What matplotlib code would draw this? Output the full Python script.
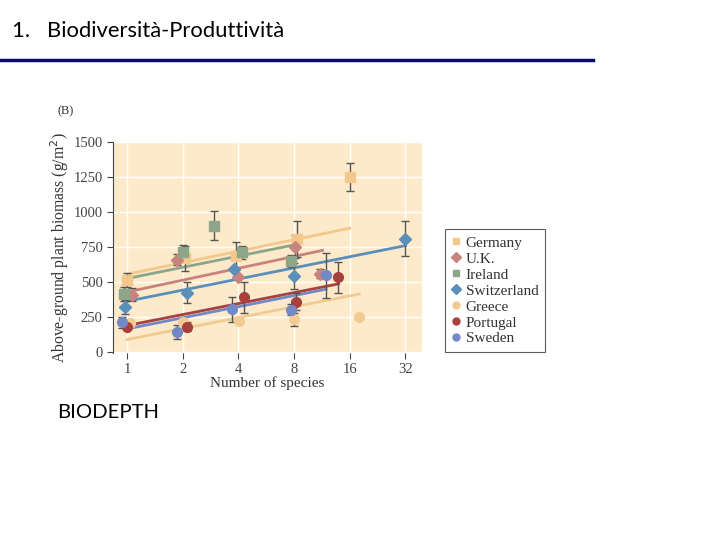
import matplotlib
matplotlib.use("Agg")
import matplotlib.pyplot as plt
from matplotlib.lines import Line2D

# data
countries = ["Germany", "U.K.", "Ireland", "Switzerland", "Greece", "Portugal", "Sweden"]
markers = ["s", "D", "s", "D", "o", "o", "o"]
colors = ["#F3C88A", "#C8837E", "#8DA68A", "#5A8EBB", "#F2CB92", "#A8403E", "#7289C7"]

germany_x = [1.0, 2.07, 3.9, 8.3, 16.0]
germany_y = [519, 670, 689, 808, 1249]
germany_e = [50, 90, 100, 125, 100]

uk_x = [1.06, 1.86, 4.0, 8.1, 11.0]
uk_y = [411, 660, 538, 754, 562]
uk_e = [45, 40, 0, 80, 35]

ireland_x = [0.96, 2.0, 2.97, 4.2, 7.7]
ireland_y = [414, 718, 904, 713, 651]
ireland_e = [50, 45, 105, 45, 40]

swiss_x = [0.98, 2.1, 3.8, 8.0, 32.0]
swiss_y = [325, 426, 596, 543, 809]
swiss_e = [50, 75, 0, 95, 125]

greece_x = [1.04, 2.0, 4.05, 8.0, 18.0]
greece_y = [208, 215, 220, 234, 251]
greece_e = [0, 0, 0, 45, 0]

portugal_x = [1.0, 2.1, 4.3, 8.2, 13.9]
portugal_y = [180, 184, 392, 361, 536]
portugal_e = [0, 30, 110, 60, 110]

sweden_x = [0.94, 1.86, 3.7, 7.7, 11.9]
sweden_y = [215, 148, 306, 304, 548]
sweden_e = [40, 50, 90, 40, 160]

# regression lines: start / end species and biomass
fit_x0 = [1.0, 1.0, 1.0, 1.0, 1.0, 1.0, 1.0]
fit_x1 = [16.0, 11.4, 8.0, 32.0, 18.0, 13.9, 11.9]
fit_y0 = [557, 430, 526, 364, 91, 191, 167]
fit_y1 = [885, 727, 766, 761, 416, 488, 450]

all_x = [germany_x, uk_x, ireland_x, swiss_x, greece_x, portugal_x, sweden_x]
all_y = [germany_y, uk_y, ireland_y, swiss_y, greece_y, portugal_y, sweden_y]
all_e = [germany_e, uk_e, ireland_e, swiss_e, greece_e, portugal_e, sweden_e]

fig = plt.figure(figsize=(7.2, 5.4), dpi=100)

# slide title and rule
fig.text(12 / 720, 1 - 31 / 540, "1.   Biodiversità-Produttività", fontsize=15.8,
         family="Lato", va="center", ha="left")
fig.add_artist(Line2D([0, 593 / 720], [1 - 60 / 540, 1 - 60 / 540], color="#0B0B6B", lw=2.5))
fig.text(57 / 720, 1 - 413 / 540, "BIODEPTH", fontsize=14.6, family="Lato",
         va="center", ha="left")
fig.text(57 / 720, 1 - 111 / 540, "(B)", fontsize=9, family="Liberation Serif",
         va="center", ha="left", color="#333333")

ax = fig.add_axes([113 / 720, 1 - 353 / 540, 309 / 720, 211 / 540])
ax.set_facecolor("#FDEACA")
ax.set_xscale("log", base=2)
ax.set_xlim(0.84, 39.3)
ax.set_ylim(-5, 1500)
ax.set_xticks([1, 2, 4, 8, 16, 32])
ax.set_xticklabels(["1", "2", "4", "8", "16", "32"])
ax.set_yticks([0, 250, 500, 750, 1000, 1250, 1500])
ax.minorticks_off()
ax.grid(True, color="white", lw=1)
ax.set_axisbelow(True)
for s in ["top", "right", "bottom"]:
    ax.spines[s].set_visible(False)
ax.spines["left"].set_color("#444444")
ax.tick_params(colors="#444444", labelsize=10.5, length=4)
for lab in ax.get_xticklabels() + ax.get_yticklabels():
    lab.set_family("Liberation Serif")

for i in range(len(countries)):
    ax.plot([fit_x0[i], fit_x1[i]], [fit_y0[i], fit_y1[i]], color=colors[i], lw=2, zorder=2)
for i in range(len(countries)):
    for x, y, e in zip(all_x[i], all_y[i], all_e[i]):
        if e > 0:
            ax.errorbar(x, y, yerr=e, fmt="none", ecolor="#555555", elinewidth=1,
                        capsize=3, zorder=3)
    ax.plot(all_x[i], all_y[i], ls="none", marker=markers[i], color=colors[i],
            ms=7 if markers[i] != "D" else 6.5, zorder=4)

ax.set_xlabel("Number of species", family="Liberation Serif", fontsize=11,
              color="#333333", labelpad=0)
ax.set_ylabel("Above-ground plant biomass (g/m$^2$)", family="Liberation Serif",
              fontsize=11.3, color="#333333", labelpad=2)

handles = [Line2D([], [], ls="none", marker=markers[i], color=colors[i], ms=5)
           for i in range(len(countries))]
leg = fig.legend(handles, countries, loc="upper left",
                 bbox_to_anchor=(445 / 720, 1 - 229 / 540), borderaxespad=0,
                 frameon=True, fancybox=False, edgecolor="#333333", handlelength=0.6,
                 handletextpad=0.3, borderpad=0.45, labelspacing=0.15,
                 prop={"family": "Liberation Serif", "size": 11})
leg.get_frame().set_linewidth(0.8)
for t in leg.get_texts():
    t.set_color("#333333")

fig.savefig("out.png", dpi=100)
